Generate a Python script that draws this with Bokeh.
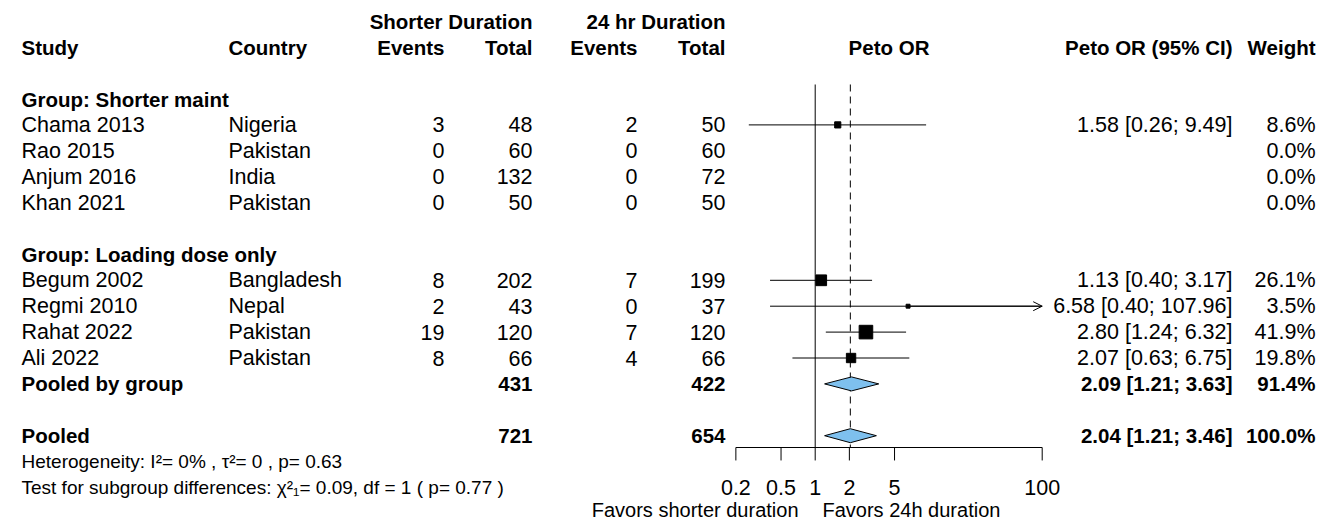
import math
from bokeh.plotting import figure
from bokeh.models import Range1d, LogScale, ColumnDataSource, Arrow, OpenHead
from bokeh.core.properties import value
from bokeh.embed import file_html
from bokeh.resources import INLINE

# ---------------- data ----------------
group_names = ["Shorter maint", "Loading dose only"]
studies = ["Chama 2013", "Rao 2015", "Anjum 2016", "Khan 2021",
           "Begum 2002", "Regmi 2010", "Rahat 2022", "Ali 2022"]
countries = ["Nigeria", "Pakistan", "India", "Pakistan",
             "Bangladesh", "Nepal", "Pakistan", "Pakistan"]
groups = ["Shorter maint"] * 4 + ["Loading dose only"] * 4
events_short = [3, 0, 0, 0, 8, 2, 19, 8]
total_short = [48, 60, 132, 50, 202, 43, 120, 66]
events_24h = [2, 0, 0, 0, 7, 0, 7, 4]
total_24h = [50, 60, 72, 50, 199, 37, 120, 66]
or_est = [1.58, None, None, None, 1.13, 6.58, 2.80, 2.07]
or_low = [0.26, None, None, None, 0.40, 0.40, 1.24, 0.63]
or_high = [9.49, None, None, None, 3.17, 107.96, 6.32, 6.75]
weights = [8.6, 0.0, 0.0, 0.0, 26.1, 3.5, 41.9, 19.8]

subgroup_pooled = {"Loading dose only": (2.09, 1.21, 3.63, 91.4)}
overall_pooled = (2.04, 1.21, 3.46, 100.0)

tick_values = [0.2, 0.5, 1, 2, 5, 100]
tick_labels = ["0.2", "0.5", "1", "2", "5", "100"]
label_left = "Favors shorter duration"
label_right = "Favors 24h duration"
het_text = "Heterogeneity:  I\u00b2= 0% , \u03c4\u00b2= 0 , p= 0.63"
subgroup_text = "Test for subgroup differences: \u03c7\u00b2\u2081= 0.09, df = 1 ( p= 0.77 )"

# ---------------- layout ----------------
W, H = 1332, 522
ROW0_PX, ROW_PX = 20.8, 25.9
X1_PX, DEC_PX = 814.7, 113.5
FONT = value("Liberation Sans")
FS = "21.5px"
FS_BOLD = "20.5px"
FS_SMALL = "19px"

COL_STUDY, COL_COUNTRY = 21, 228
COL_EV1, COL_N1, COL_EV2, COL_N2 = 444, 532, 637, 725
COL_CI, COL_W = 1232, 1315

p = figure(width=W, height=H,
           x_range=Range1d(0, W),
           y_range=Range1d((H - ROW0_PX) / ROW_PX, -ROW0_PX / ROW_PX),
           x_axis_type=None, y_axis_type=None,
           toolbar_location=None, output_backend="svg", min_border=0)
p.extra_x_ranges = {"or": Range1d(10 ** ((0 - X1_PX) / DEC_PX), 10 ** ((W - X1_PX) / DEC_PX))}
p.extra_x_scales = {"or": LogScale()}
p.outline_line_color = None
p.background_fill_color = "white"
p.border_fill_color = "white"


def txt(xs, ys, texts, align="left", bold=False, size=None, rng="default"):
    if size is None:
        size = FS_BOLD if bold else FS
    p.text(x=xs, y=ys, text=texts, text_font=FONT, text_font_size=size,
           text_align=align, text_baseline="middle", text_color="black",
           text_font_style="bold" if bold else "normal", x_range_name=rng)


# row assignment
row = 3
group_rows = {}
study_rows = [None] * len(studies)
pooled_rows = {}
for g in group_names:
    group_rows[g] = row
    row += 1
    for i, gg in enumerate(groups):
        if gg == g:
            study_rows[i] = row
            row += 1
    if g in subgroup_pooled:
        pooled_rows[g] = row
        row += 1
    row += 1
overall_row = row
axis_row = overall_row + 0.456
top_row = 2.44
tick_len = 0.5

# headers
txt([COL_N1, COL_N2], [0, 0], ["Shorter Duration", "24 hr Duration"], align="right", bold=True)
txt([COL_STUDY, COL_COUNTRY], [1, 1], ["Study", "Country"], bold=True)
txt([COL_EV1, COL_N1, COL_EV2, COL_N2, COL_CI, COL_W], [1] * 6,
    ["Events", "Total", "Events", "Total", "Peto OR (95% CI)", "Weight"], align="right", bold=True)
txt([math.sqrt(tick_values[0] * tick_values[-1])], [1], ["Peto OR"], align="center", bold=True, rng="or")

# group labels
txt([COL_STUDY] * len(group_names), [group_rows[g] for g in group_names],
    ["Group: " + g for g in group_names], bold=True)

# study rows
txt([COL_STUDY] * len(studies), study_rows, studies)
txt([COL_COUNTRY] * len(studies), study_rows, countries)
txt([COL_EV1] * len(studies), study_rows, [str(v) for v in events_short], align="right")
txt([COL_N1] * len(studies), study_rows, [str(v) for v in total_short], align="right")
txt([COL_EV2] * len(studies), study_rows, [str(v) for v in events_24h], align="right")
txt([COL_N2] * len(studies), study_rows, [str(v) for v in total_24h], align="right")
ci_strings = ["" if e is None else f"{e:.2f} [{lo:.2f}; {hi:.2f}]"
              for e, lo, hi in zip(or_est, or_low, or_high)]
txt([COL_CI] * len(studies), study_rows, ci_strings, align="right")
txt([COL_W] * len(studies), study_rows, [f"{w:.1f}%" for w in weights], align="right")

# pooled rows
diam_xs, diam_ys = [], []
DH = 0.27
for g, (e, lo, hi, w) in subgroup_pooled.items():
    k = pooled_rows[g]
    idx = [i for i, gg in enumerate(groups) if gg == g]
    txt([COL_STUDY], [k], ["Pooled by group"], bold=True)
    txt([COL_N1, COL_N2], [k, k], [str(sum(total_short[i] for i in idx)),
                                    str(sum(total_24h[i] for i in idx))], align="right", bold=True)
    txt([COL_CI, COL_W], [k, k], [f"{e:.2f} [{lo:.2f}; {hi:.2f}]", f"{w:.1f}%"], align="right", bold=True)
    diam_xs.append([lo, e, hi, e])
    diam_ys.append([k, k - DH, k, k + DH])

e, lo, hi, w = overall_pooled
k = overall_row
txt([COL_STUDY], [k], ["Pooled"], bold=True)
txt([COL_N1, COL_N2], [k, k], [str(sum(total_short)), str(sum(total_24h))], align="right", bold=True)
txt([COL_CI, COL_W], [k, k], [f"{e:.2f} [{lo:.2f}; {hi:.2f}]", f"{w:.1f}%"], align="right", bold=True)
diam_xs.append([lo, e, hi, e])
diam_ys.append([k, k - DH, k, k + DH])

txt([COL_STUDY, COL_STUDY], [overall_row + 1, overall_row + 2], [het_text, subgroup_text], size=FS_SMALL)

# reference lines
p.segment(x0=[1], x1=[1], y0=[top_row], y1=[axis_row], line_color="black", line_width=1, x_range_name="or")
p.segment(x0=[overall_pooled[0]], x1=[overall_pooled[0]], y0=[top_row], y1=[axis_row],
          line_color="black", line_width=1, line_dash="7 5", x_range_name="or")

# CIs
xmax = tick_values[-1]
xmin = tick_values[0]
seg = dict(x0=[], x1=[], y=[])
arrows = dict(x0=[], x1=[], y=[])
pts = dict(x=[], y=[], s=[])
for i in range(len(studies)):
    if or_est[i] is None:
        continue
    lo_c = max(or_low[i], xmin)
    hi_c = min(or_high[i], xmax)
    if or_high[i] > xmax:
        arrows["x0"].append(or_est[i]); arrows["x1"].append(xmax); arrows["y"].append(study_rows[i])
    seg["x0"].append(lo_c); seg["x1"].append(hi_c); seg["y"].append(study_rows[i])
    pts["x"].append(or_est[i]); pts["y"].append(study_rows[i]); pts["s"].append(2.1 * math.sqrt(weights[i]))

p.segment(x0="x0", x1="x1", y0="y", y1="y", source=ColumnDataSource(seg),
          line_color="black", line_width=1, x_range_name="or")
p.add_layout(Arrow(end=OpenHead(size=9, line_width=1, line_color="black"),
                   source=ColumnDataSource(arrows), x_start="x0", x_end="x1",
                   y_start="y", y_end="y", line_width=1, line_color="black", x_range_name="or"))
p.scatter(x="x", y="y", size="s", marker="square", source=ColumnDataSource(pts),
          fill_color="black", line_color="black", x_range_name="or")

p.patches(xs=diam_xs, ys=diam_ys, fill_color="#7EC0EE", line_color="black", line_width=1, x_range_name="or")

# x axis drawn on the OR scale
p.segment(x0=[xmin], x1=[xmax], y0=[axis_row], y1=[axis_row], line_color="black", line_width=1, x_range_name="or")
p.segment(x0=tick_values, x1=tick_values, y0=[axis_row] * len(tick_values),
          y1=[axis_row + tick_len] * len(tick_values), line_color="black", line_width=1, x_range_name="or")
txt(tick_values, [overall_row + 2] * len(tick_values), tick_labels, align="center", rng="or")
fav_row = overall_row + 2.88
txt([798], [fav_row], [label_left], align="right", size="20px")
txt([822], [fav_row], [label_right], align="left", size="20px")

open("out.html", "w").write(file_html(p, INLINE))
